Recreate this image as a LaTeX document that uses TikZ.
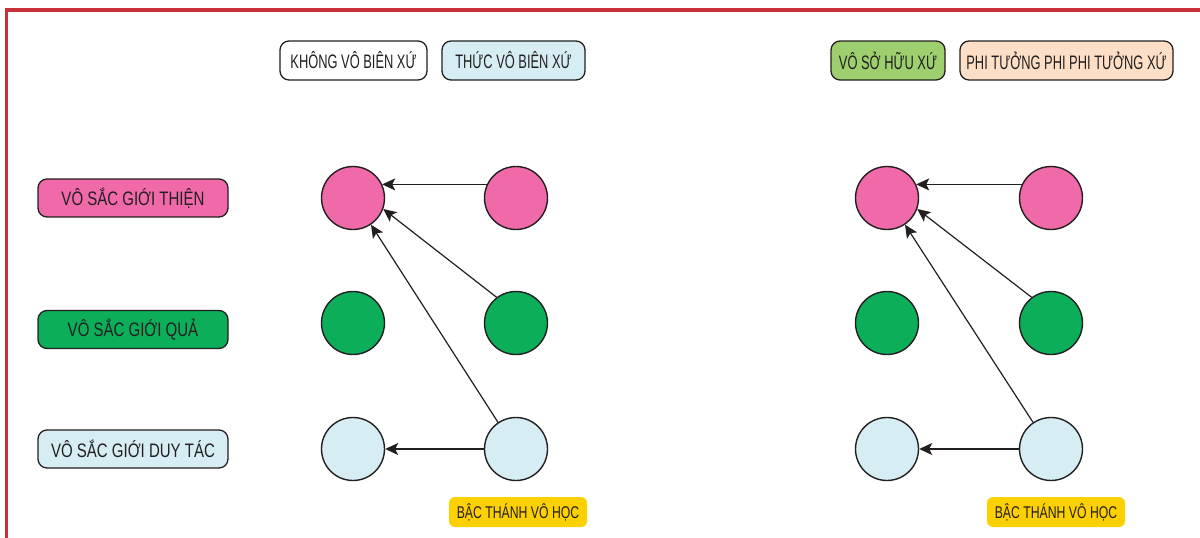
\documentclass[tikz,border=0pt]{standalone}
\usepackage{fontspec}
\setmainfont[FakeStretch=0.72]{Liberation Sans}
\newfontfamily\topfont[FakeStretch=0.66]{Liberation Sans}
\newfontfamily\sidefont[FakeStretch=0.77]{Liberation Sans}
\usetikzlibrary{arrows.meta}
\definecolor{framered}{RGB}{200,48,58}
\definecolor{ink}{RGB}{35,31,32}
\definecolor{pinkc}{RGB}{240,105,168}
\definecolor{greenc}{RGB}{12,174,90}
\definecolor{lblue}{RGB}{214,238,243}
\definecolor{lgreen}{RGB}{157,207,110}
\definecolor{peach}{RGB}{253,223,200}
\definecolor{yellowc}{RGB}{253,208,0}
\tikzset{
  dot/.style={circle, draw=ink, line width=1.4pt, minimum size=63pt, inner sep=0pt},
  tag/.style={rounded corners=9pt, draw=ink, line width=1.3pt, minimum height=38pt, inner sep=0pt, text=ink},
  toptag/.style={tag, minimum height=39pt, font=\topfont\fontsize{19.5}{19.5}\selectfont},
  sidetag/.style={tag, minimum width=190pt, font=\sidefont\fontsize{19.5}{19.5}\selectfont},
  ytag/.style={rounded corners=6pt, fill=yellowc, minimum height=30pt, minimum width=138pt, inner sep=0pt, text=ink, font=\fontsize{17}{17}\selectfont},
  conn/.style={draw=ink, line width=1.2pt, -{Stealth[length=13pt,width=12pt,inset=3pt]}},
}
\begin{document}
\begin{tikzpicture}[x=1pt,y=-1pt]
\useasboundingbox (0,0) rectangle (1200,538);
\fill[white] (0,0) rectangle (1200,538);
\draw[framered, line width=3.5pt] (6.5,540) -- (6.5,10) -- (1202,10);

% top labels
\node[toptag, fill=white, minimum width=147pt] (kvb) at (353.5,60.5) {KHÔNG VÔ BIÊN XỨ};
\node[toptag, fill=lblue, minimum width=143pt] (tvb) at (513.5,60.5) {THỨC VÔ BIÊN XỨ};
\node[toptag, fill=lgreen, minimum width=114pt] (vsh) at (888,60.5) {VÔ SỞ HỮU XỨ};
\node[toptag, fill=peach, minimum width=213pt] (ptp) at (1066.5,60.5) {PHI TƯỞNG PHI PHI TƯỞNG XỨ};

% left labels
\node[sidetag, fill=pinkc] (lt) at (133,198) {VÔ SẮC GIỚI THIỆN};
\node[sidetag, fill=greenc] (lq) at (133,329.5) {VÔ SẮC GIỚI QUẢ};
\node[sidetag, fill=lblue] (ld) at (133,449) {VÔ SẮC GIỚI DUY TÁC};

% left group
\node[dot, fill=pinkc] (ap1) at (353,198) {};
\node[dot, fill=pinkc] (ap2) at (516,198) {};
\node[dot, fill=greenc] (ag1) at (353,323) {};
\node[dot, fill=greenc] (ag2) at (516,323) {};
\node[dot, fill=lblue] (ab1) at (353,449) {};
\node[dot, fill=lblue] (ab2) at (516,449) {};
\node[ytag] (ay) at (518,512) {BẬC THÁNH VÔ HỌC};

\draw[conn] (ap2.155) -- (ap1.25);
\draw[conn] (ag2.127) -- (ap1.-20);
\draw[conn] (ab2.124) -- (ap1.-56);
\draw[conn] (ab2.west) -- (ab1.east);

% right group
\node[dot, fill=pinkc] (bp1) at (887,198) {};
\node[dot, fill=pinkc] (bp2) at (1051,198) {};
\node[dot, fill=greenc] (bg1) at (887,323) {};
\node[dot, fill=greenc] (bg2) at (1051,323) {};
\node[dot, fill=lblue] (bb1) at (887,449) {};
\node[dot, fill=lblue] (bb2) at (1051,449) {};
\node[ytag] (by) at (1056,512) {BẬC THÁNH VÔ HỌC};

\draw[conn] (bp2.155) -- (bp1.25);
\draw[conn] (bg2.127) -- (bp1.-20);
\draw[conn] (bb2.124) -- (bp1.-56);
\draw[conn] (bb2.west) -- (bb1.east);
\end{tikzpicture}
\end{document}
